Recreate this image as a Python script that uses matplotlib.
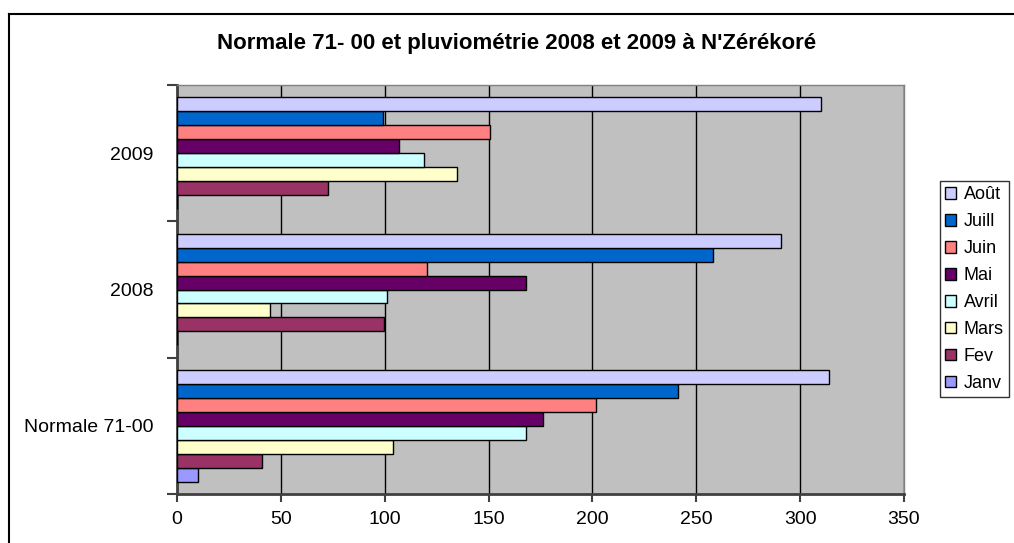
import matplotlib.pyplot as plt
import numpy as np
from matplotlib.lines import Line2D

plt.rcParams['font.family'] = ['Liberation Sans', 'DejaVu Sans']

# data
groups = ['Normale 71-00', '2008', '2009']
months = ['Janv', 'Fev', 'Mars', 'Avril', 'Mai', 'Juin', 'Juill', 'Août']
colors = ['#9999FF', '#993366', '#FFFFCC', '#CCFFFF', '#660066', '#FF8080', '#0066CC', '#CCCCFF']

janv = [10, 0, 0]
fev = [41, 99.5, 72.5]
mars = [104, 45, 135]
avril = [168, 101, 119]
mai = [176, 168, 107]
juin = [201.5, 120.5, 150.5]
juill = [241, 258, 99]
aout = [314, 291, 310]
series = [janv, fev, mars, avril, mai, juin, juill, aout]

xticks = [0, 50, 100, 150, 200, 250, 300, 350]

fig = plt.figure(figsize=(10.14, 5.43), dpi=100)
ax = fig.add_axes([177/1014, 49/543, 727/1014, 409/543])
ax.set_facecolor('#C0C0C0')

h = 1 / (8 + 1.74)
y = np.arange(len(groups))
for i, (vals, c) in enumerate(zip(series, colors)):
    ax.barh(y + (i - 3.5) * h, vals, height=h, color=c, edgecolor='black',
            linewidth=1, label=months[i], zorder=3)

ax.set_xlim(0, 350)
ax.set_ylim(-0.5, 2.5)
ax.set_xticks(xticks)
ax.set_xticklabels([str(t) for t in xticks], fontsize=14)
ax.xaxis.grid(True, color='black', linewidth=1, zorder=1)
ax.set_axisbelow(True)

ax.set_yticks(y)
ax.set_yticklabels(groups, fontsize=14)
ax.set_yticks([-0.5, 0.5, 1.5, 2.5], minor=True)
ax.tick_params(axis='y', which='major', length=0, pad=17)
ax.tick_params(axis='y', which='minor', length=7, color='#404040', width=1.5)
ax.tick_params(axis='x', length=6, color='#404040', width=1.5, pad=6)

for s in ['top', 'right']:
    ax.spines[s].set_color('#808080')
    ax.spines[s].set_linewidth(1)
for s in ['left', 'bottom']:
    ax.spines[s].set_color('#404040')
    ax.spines[s].set_linewidth(2)

fig.text(517/1014, 1 - 44/543, "Normale 71- 00 et pluviométrie 2008 et 2009 à N'Zérékoré",
         ha='center', va='center', fontsize=16, fontweight='bold')

handles, labels = ax.get_legend_handles_labels()
leg = fig.legend(handles[::-1], labels[::-1], loc='upper left',
                 bbox_to_anchor=(940/1014, 1 - 181/543), fontsize=13,
                 frameon=True, fancybox=False, edgecolor='black',
                 handlelength=0.6, handleheight=0.6, handletextpad=0.4,
                 labelspacing=0.55, borderpad=0.3, borderaxespad=0)
leg.get_frame().set_linewidth(1)

# outer chart border
fig.add_artist(Line2D([9/1014, 9/1014], [0, 1 - 14/543], color='black', linewidth=1.5))
fig.add_artist(Line2D([9/1014, 1], [1 - 14/543, 1 - 14/543], color='black', linewidth=1.5))

fig.savefig('out.png', dpi=100)
